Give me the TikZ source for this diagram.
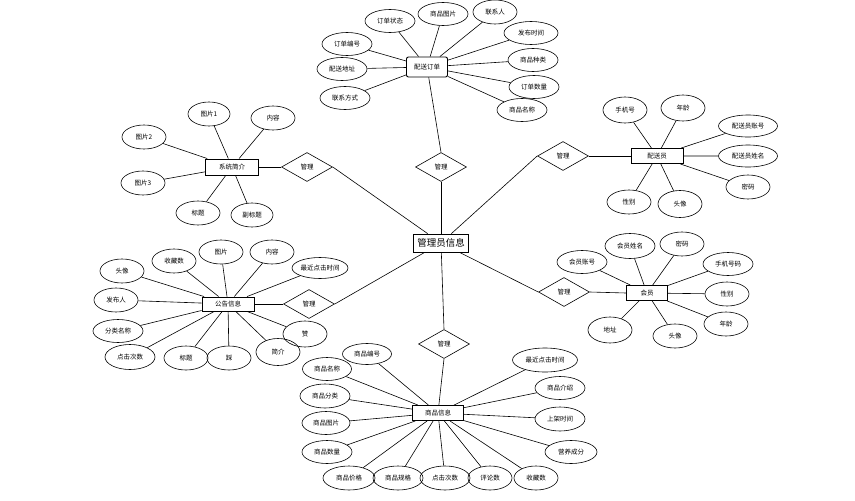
\documentclass[tikz,border=0pt]{standalone}
\usepackage{fontspec}
\setmainfont{Noto Sans CJK SC}
\usetikzlibrary{shapes.geometric,positioning}

\begin{document}
\begin{tikzpicture}[
  x=1pt, y=-1pt,
  attr/.style={
    draw,
    ellipse,
    line width=0.6pt,
    inner sep=0pt,
    minimum width=44pt,
    minimum height=24pt,
    font=\fontsize{6.5}{7}\selectfont,
  },
  wideattr/.style={
    attr,
    minimum width=50pt,
    minimum height=23pt,
  },
  entity/.style={
    draw,
    rectangle,
    line width=0.9pt,
    inner sep=0pt,
    minimum width=52pt,
    minimum height=15pt,
    font=\fontsize{6.5}{7}\selectfont,
  },
  rel/.style={
    draw,
    diamond,
    line width=0.6pt,
    inner sep=0pt,
    minimum width=51pt,
    minimum height=29pt,
    font=\fontsize{6.5}{7}\selectfont,
  },
  link/.style={
    line width=0.6pt,
  },
]

\useasboundingbox (0,0) rectangle (855,501);

% =============================================================================
% Centre: administrator and its relations
% =============================================================================
\node[draw, line width=0.7pt, inner sep=2pt, minimum width=55pt, minimum height=18pt,
      font=\fontsize{9.5}{10}\selectfont] (admin) at (441,243) {管理员信息};

\node[rel] (relorder)   at (441,167) {管理};
\node[rel] (relintro)   at (307,167) {管理};
\node[rel] (relcourier) at (563,156) {管理};
\node[rel] (relnotice)  at (309,304) {管理};
\node[rel] (relmember)  at (564,292) {管理};
\node[rel] (relgoods)   at (444,344) {管理};

\draw[link] (relorder.south) -- (admin);
\draw[link] (relintro.east) -- (admin);
\draw[link] (relcourier.west) -- (admin);
\draw[link] (relnotice.east) -- (admin);
\draw[link] (relmember.west) -- (admin);
\draw[link] (relgoods.north) -- (admin);

% =============================================================================
% Delivery order
% =============================================================================
\node[entity, rounded corners=2pt, minimum width=41pt, minimum height=20pt] (order) at (427,67) {配送订单};

\node[wideattr] (ordstate)  at (390,21)  {订单状态};
\node[wideattr] (ordpic)    at (443,14)  {商品图片};
\node[attr]     (ordperson) at (495,12)  {联系人};
\node[wideattr, minimum width=54pt] (ordtime) at (531,33) {发布时间};
\node[wideattr] (ordno)     at (347,44)  {订单编号};
\node[wideattr] (ordaddr)   at (342,69)  {配送地址};
\node[wideattr] (ordkind)   at (533,60)  {商品种类};
\node[wideattr] (ordphone)  at (345,98)  {联系方式};
\node[wideattr] (ordnum)    at (534,87)  {订单数量};
\node[wideattr] (ordname)   at (522,110) {商品名称};

\draw[link] (order) -- (ordstate) (order) -- (ordpic) (order) -- (ordperson)
  (order) -- (ordtime) (order) -- (ordno) (order) -- (ordaddr) (order) -- (ordkind)
  (order) -- (ordphone) (order) -- (ordnum) (order) -- (ordname);
\draw[link] (order) -- (relorder.north);

% =============================================================================
% System introduction
% =============================================================================
\node[entity, minimum width=53pt, minimum height=16pt] (intro) at (232,167) {系统简介};

\node[attr, minimum width=42pt] (intpic1)  at (209,114) {图片1};
\node[attr]                     (intbody)  at (273,118) {内容};
\node[attr]                     (intpic2)  at (144,137) {图片2};
\node[attr]                     (intpic3)  at (143,183) {图片3};
\node[attr]                     (inttitle) at (198,213) {标题};
\node[attr, minimum width=42pt] (intsub)   at (252,215) {副标题};

\draw[link] (intro) -- (intpic1) (intro) -- (intbody) (intro) -- (intpic2)
  (intro) -- (intpic3) (intro) -- (inttitle) (intro) -- (intsub);
\draw[link] (intro.east) -- (relintro.west);

% =============================================================================
% Courier
% =============================================================================
\node[entity] (courier) at (657,156) {配送员};

\node[attr, minimum height=26pt] (coupho)  at (625,110) {手机号};
\node[attr, minimum height=26pt] (couage)  at (683,108) {年龄};
\node[attr, minimum width=59pt, minimum height=22pt] (couacc)  at (748,126) {配送员账号};
\node[attr, minimum width=59pt, minimum height=22pt] (couname) at (748,156) {配送员姓名};
\node[attr] (coupwd)  at (748,187) {密码};
\node[attr] (cousex)  at (629,202) {性别};
\node[attr, minimum height=27pt] (couhead) at (680,204) {头像};

\draw[link] (courier) -- (coupho) (courier) -- (couage) (courier) -- (couacc)
  (courier) -- (couname) (courier) -- (coupwd) (courier) -- (cousex) (courier) -- (couhead);
\draw[link] (courier.west) -- (relcourier.east);

% =============================================================================
% Notice
% =============================================================================
\node[entity, minimum height=14pt] (notice) at (228,304) {公告信息};

\node[attr] (nothead)  at (122,271) {头像};
\node[attr] (notfav)   at (174,261) {收藏数};
\node[attr] (notpic)   at (221,252) {图片};
\node[attr] (notbody)  at (272,252) {内容};
\node[attr, minimum width=56pt, minimum height=21pt] (notclick) at (320,268) {最近点击时间};
\node[attr] (notpub)   at (116,300) {发布人};
\node[wideattr] (notcat)   at (118,331) {分类名称};
\node[wideattr, minimum height=25pt] (notcount) at (130,357) {点击次数};
\node[attr] (nottitle) at (186,358) {标题};
\node[attr] (notdown)  at (229,358) {踩};
\node[attr, minimum height=27pt] (notsum) at (278,352) {简介};
\node[attr, minimum height=26pt] (notup)  at (305,334) {赞};

\draw[link] (notice) -- (nothead) (notice) -- (notfav) (notice) -- (notpic)
  (notice) -- (notbody) (notice) -- (notclick) (notice) -- (notpub) (notice) -- (notcat)
  (notice) -- (notcount) (notice) -- (nottitle) (notice) -- (notdown)
  (notice) -- (notsum) (notice) -- (notup);
\draw[link] (notice.east) -- (relnotice.west);

% =============================================================================
% Member
% =============================================================================
\node[entity, minimum width=41pt] (member) at (647,293) {会员};

\node[wideattr] (memacc)   at (582,262) {会员账号};
\node[wideattr, minimum height=25pt] (memname) at (630,246) {会员姓名};
\node[attr]     (mempwd)   at (682,244) {密码};
\node[wideattr] (memphone) at (728,264) {手机号码};
\node[attr]     (memsex)   at (727,294) {性别};
\node[attr]     (memage)   at (726,324) {年龄};
\node[attr, minimum height=26pt] (memaddr) at (610,330) {地址};
\node[attr]     (memhead)  at (675,336) {头像};

\draw[link] (member) -- (memacc) (member) -- (memname) (member) -- (mempwd)
  (member) -- (memphone) (member) -- (memsex) (member) -- (memage)
  (member) -- (memaddr) (member) -- (memhead);
\draw[link] (member.west) -- (relmember.east);

% =============================================================================
% Goods
% =============================================================================
\node[entity, minimum width=51pt] (goods) at (438,413) {商品信息};

\node[wideattr, minimum width=49pt, minimum height=21pt] (gdsno) at (367,354) {商品编号};
\node[wideattr, minimum width=49pt] (gdsname)  at (327,369) {商品名称};
\node[wideattr, minimum height=24pt] (gdscat)  at (325,396) {商品分类};
\node[wideattr, minimum width=48pt] (gdspic)   at (326,423) {商品图片};
\node[wideattr] (gdsnum)   at (327,452) {商品数量};
\node[wideattr, minimum width=52pt, minimum height=24pt] (gdsprice) at (349,478) {商品价格};
\node[wideattr, minimum height=24pt] (gdsspec)  at (398,478) {商品规格};
\node[wideattr, minimum height=24pt] (gdscount) at (445,478) {点击次数};
\node[attr]     (gdsrev)   at (490,478) {评论数};
\node[attr]     (gdsfav)   at (536,478) {收藏数};
\node[attr, minimum width=65pt] (gdsclick) at (545,360) {最近点击时间};
\node[wideattr] (gdsdesc)  at (560,388) {商品介绍};
\node[wideattr, minimum height=24pt] (gdstime) at (560,419) {上架时间};
\node[wideattr, minimum width=52pt] (gdsnutr) at (571,452) {营养成分};

\draw[link] (goods) -- (gdsno) (goods) -- (gdsname) (goods) -- (gdscat)
  (goods) -- (gdspic) (goods) -- (gdsnum) (goods) -- (gdsprice) (goods) -- (gdsspec)
  (goods) -- (gdscount) (goods) -- (gdsrev) (goods) -- (gdsfav) (goods) -- (gdsclick)
  (goods) -- (gdsdesc) (goods) -- (gdstime) (goods) -- (gdsnutr);
\draw[link] (goods) -- (relgoods.south);

\end{tikzpicture}
\end{document}
